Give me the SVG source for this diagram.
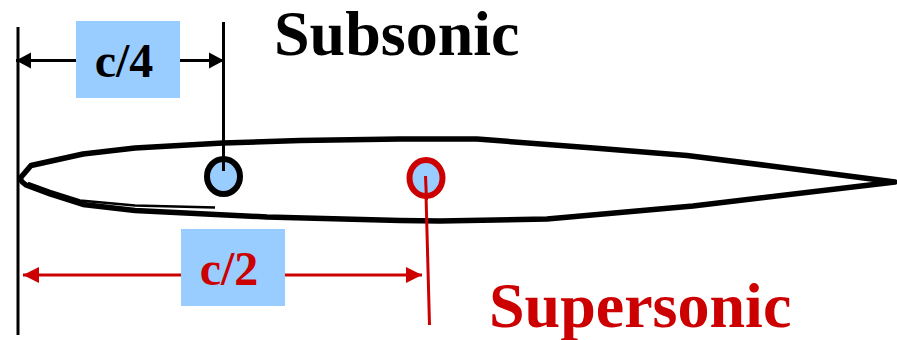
<svg xmlns="http://www.w3.org/2000/svg" width="897" height="340" viewBox="0 0 897 340">
<style>
text{font-family:"Liberation Serif","Times New Roman",serif;font-weight:700}
.k{fill:#000}.r{fill:#c00}
.box{fill:#9cf}
.foil{fill:none;stroke:#000;stroke-width:5.500;stroke-linejoin:round}
</style>
<defs>
<marker id="ak" markerUnits="userSpaceOnUse" markerWidth="16" markerHeight="17" refX="15" refY="8.500" orient="auto-start-reverse"><path d="M0 0.500L15 8.500L0 16.500z" fill="#000"/></marker>
<marker id="ar" markerUnits="userSpaceOnUse" markerWidth="17" markerHeight="17" refX="16" refY="8.500" orient="auto-start-reverse"><path d="M0 0.500L16 8.500L0 16.500z" fill="#c00"/></marker>
</defs>
<g id="airfoil">
<path class="foil" d="M31 165.500L83 154L135 148L223 143L300 140.500L400 139L477 139L600 148.500L687 155.500L767 165.500L895 182L693 206L547 219L440 221L400 220.500L267 217L135 210.500L83 204.500L50 194L26 185Q18 180 22 176Z"/>
<path d="M28 183L50 191L80 200.500L135 205.500L215 207.500" fill="none" stroke="#000" stroke-width="2.500"/>
</g>
<g id="connectors">
<line x1="18" y1="27" x2="18" y2="335" stroke="#000" stroke-width="3"/>
<line x1="223.500" y1="22" x2="223.500" y2="171" stroke="#000" stroke-width="3"/>
<line x1="16" y1="60.500" x2="224" y2="60.500" stroke="#000" stroke-width="3" marker-start="url(#ak)" marker-end="url(#ak)"/>
<line x1="23" y1="275" x2="422" y2="275" stroke="#c00" stroke-width="3" marker-start="url(#ar)" marker-end="url(#ar)"/>
<line x1="425.500" y1="176" x2="429.500" y2="325" stroke="#c00" stroke-width="3"/>
</g>
<g id="point-subsonic">
<ellipse cx="223.500" cy="176.500" rx="16.500" ry="17.500" fill="#9cf" stroke="#000" stroke-width="6"/>
<line x1="223.500" y1="150" x2="223.500" y2="171" stroke="#000" stroke-width="3"/>
</g>
<g id="point-supersonic">
<ellipse cx="426" cy="178" rx="16.500" ry="18" fill="#9cf" stroke="#c00" stroke-width="6"/>
<line x1="425.500" y1="176" x2="426.500" y2="200" stroke="#c00" stroke-width="3"/>
</g>
<g id="label-c4">
<rect class="box" x="76" y="21" width="104" height="77"/>
<text class="k" x="124" y="77" font-size="48" text-anchor="middle">c/4</text>
</g>
<g id="label-c2">
<rect class="box" x="181" y="229" width="104" height="77"/>
<text class="r" x="229" y="285" font-size="48" text-anchor="middle">c/2</text>
</g>
<g id="label-subsonic"><text class="k" x="274" y="54.500" font-size="64">Subsonic</text></g>
<g id="label-supersonic"><text class="r" x="489" y="327" font-size="64">Supersonic</text></g>
</svg>
